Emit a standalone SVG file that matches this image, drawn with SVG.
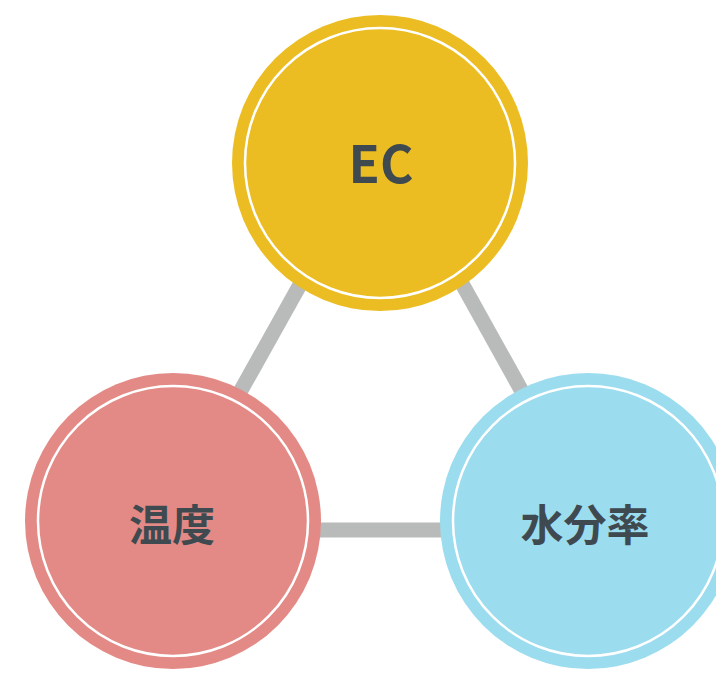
<svg xmlns="http://www.w3.org/2000/svg" width="716" height="674" viewBox="0 0 716 674">
<style>
.conn{stroke:#b9bbbb;stroke-width:15;fill:none}
.ring{fill:none;stroke:#ffffff;stroke-width:2.5}
.lbl{font-family:"Noto Sans CJK JP","Noto Sans",sans-serif;font-weight:700;fill:#3e4a50;text-anchor:middle}
</style>
<rect width="716" height="674" fill="#ffffff"/>
<g id="connectors">
<line class="conn" x1="368" y1="163" x2="168" y2="521"/>
<line class="conn" x1="395" y1="163" x2="594" y2="521"/>
<line class="conn" x1="173" y1="530" x2="588" y2="530"/>
</g>
<g id="node-ec">
<circle cx="380" cy="163" r="148" fill="#ebbd22"/>
<circle class="ring" cx="380" cy="163" r="135"/>
<text class="lbl" x="381" y="183" font-size="51">EC</text>
</g>
<g id="node-temp">
<circle cx="173" cy="521" r="148" fill="#e38a86"/>
<circle class="ring" cx="173" cy="521" r="135"/>
<text class="lbl" x="172" y="541" font-size="43">温度</text>
</g>
<g id="node-water">
<circle cx="588" cy="521" r="148" fill="#9bdcee"/>
<circle class="ring" cx="588" cy="521" r="135"/>
<text class="lbl" x="585" y="541" font-size="43">水分率</text>
</g>
</svg>
